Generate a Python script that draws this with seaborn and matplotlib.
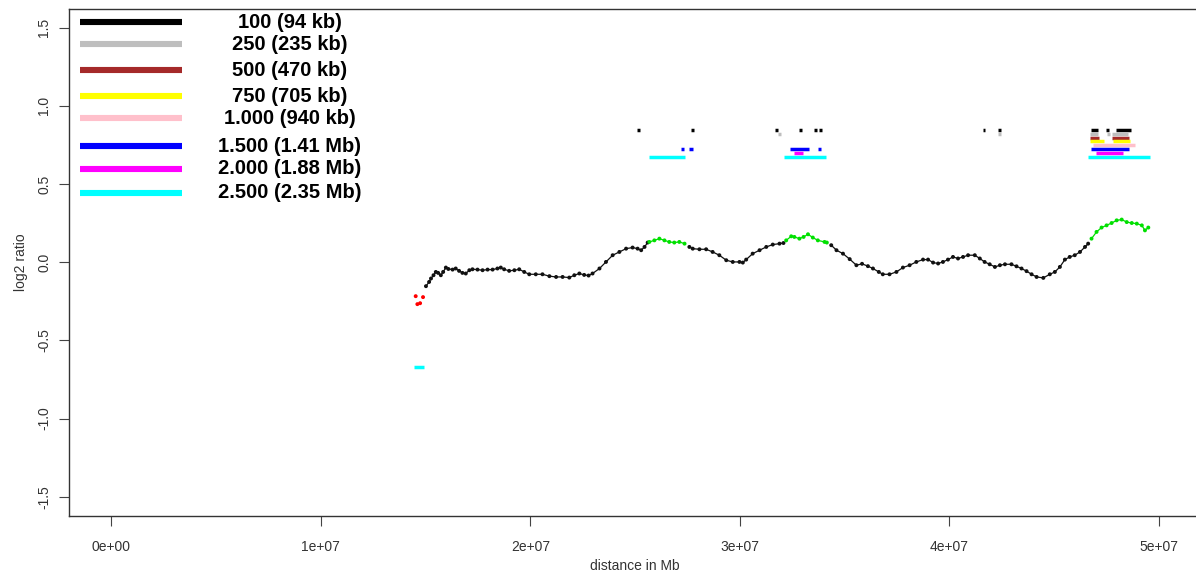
import numpy as np
import pandas as pd
import matplotlib
matplotlib.use("Agg")
import matplotlib.pyplot as plt
import seaborn as sns
from matplotlib.lines import Line2D

sns.set_theme(style="white")
plt.rcParams["font.family"] = ["Liberation Sans", "DejaVu Sans"]

# ---------------- data ----------------
# smoothed log2 ratio points (position in Mb, value) and their call
red_pos = [14.53, 14.61, 14.74, 14.88]
red_val = [-0.217, -0.268, -0.262, -0.223]

black1_pos = [15.02, 15.17, 15.26, 15.38, 15.49, 15.60, 15.73, 15.84, 15.97, 16.09,
              16.29, 16.44, 16.60, 16.76, 16.92, 17.09, 17.24, 17.48, 17.72, 17.96,
              18.20, 18.43, 18.59, 18.75, 18.99, 19.24, 19.47, 19.71, 19.95, 20.26,
              20.58, 20.91, 21.23, 21.54, 21.86, 22.10, 22.34, 22.57, 22.78, 22.97,
              23.30, 23.61, 23.93, 24.25, 24.57, 24.88, 25.12, 25.29, 25.45, 25.60]
black1_val = [-0.153, -0.126, -0.104, -0.083, -0.062, -0.068, -0.083, -0.062, -0.034, -0.043,
              -0.047, -0.040, -0.055, -0.068, -0.072, -0.051, -0.045, -0.047, -0.051, -0.047,
              -0.047, -0.040, -0.034, -0.045, -0.055, -0.051, -0.045, -0.062, -0.077, -0.077,
              -0.077, -0.089, -0.094, -0.094, -0.098, -0.083, -0.072, -0.081, -0.085, -0.072,
              -0.040, 0.002, 0.045, 0.066, 0.087, 0.094, 0.087, 0.077, 0.098, 0.126]

green1_pos = [25.68, 25.92, 26.16, 26.40, 26.63, 26.87, 27.11, 27.36]
green1_val = [0.130, 0.140, 0.151, 0.140, 0.130, 0.126, 0.130, 0.119]

black2_pos = [27.59, 27.75, 28.07, 28.39, 28.70, 29.02, 29.35, 29.66, 29.98, 30.14,
              30.30, 30.61, 30.94, 31.26, 31.57, 31.89, 32.08]
black2_val = [0.098, 0.087, 0.083, 0.083, 0.066, 0.045, 0.013, 0.002, 0.002, -0.002,
              0.017, 0.055, 0.077, 0.098, 0.113, 0.119, 0.123]

green2_pos = [32.21, 32.45, 32.60, 32.84, 33.04, 33.25, 33.48, 33.72, 34.04, 34.15]
green2_val = [0.140, 0.166, 0.162, 0.151, 0.162, 0.179, 0.158, 0.140, 0.130, 0.126]

black3_pos = [34.36, 34.61, 34.92, 35.24, 35.56, 35.83, 36.11, 36.35, 36.63, 36.82,
              37.14, 37.47, 37.78, 38.10, 38.42, 38.74, 38.98, 39.22, 39.46, 39.69,
              39.93, 40.17, 40.41, 40.65, 40.89, 41.21, 41.45, 41.68, 41.92, 42.17,
              42.41, 42.65, 42.96, 43.20, 43.44, 43.68, 43.92, 44.16, 44.48, 44.79,
              45.03, 45.27, 45.51, 45.74, 45.98, 46.23, 46.47, 46.62]
black3_val = [0.109, 0.077, 0.055, 0.020, -0.019, -0.010, -0.025, -0.040, -0.062, -0.077,
              -0.077, -0.062, -0.034, -0.019, 0.002, 0.017, 0.017, -0.002, -0.008, 0.002,
              0.017, 0.034, 0.024, 0.034, 0.045, 0.045, 0.024, 0.002, -0.013, -0.030,
              -0.019, -0.013, -0.013, -0.026, -0.040, -0.057, -0.077, -0.094, -0.100, -0.077,
              -0.062, -0.030, 0.017, 0.034, 0.045, 0.066, 0.098, 0.119]

green3_pos = [46.78, 47.02, 47.26, 47.50, 47.74, 47.98, 48.22, 48.46, 48.70, 48.94,
              49.18, 49.33, 49.49]
green3_val = [0.151, 0.194, 0.222, 0.236, 0.251, 0.268, 0.273, 0.257, 0.251, 0.247,
              0.236, 0.204, 0.222]

# segment calls per window size: (series, start Mb, end Mb, level)
seg_series = ["100"] * 11 + ["250"] * 5 + ["500"] * 2 + ["750"] * 2 + ["1.000"] * 1 \
    + ["1.500"] * 5 + ["2.000"] * 2 + ["2.500"] * 4
seg_start = [25.09, 27.68, 31.69, 32.82, 33.54, 33.78, 41.58, 42.30, 46.77, 47.48, 47.93,
             31.82, 42.33, 46.71, 47.50, 47.78,
             46.71, 47.77,
             46.71, 47.81,
             46.86,
             27.21, 27.55, 32.41, 33.73, 46.75,
             32.60, 46.98,
             14.45, 25.68, 32.09, 46.62]
seg_end = [25.23, 27.82, 31.83, 32.96, 33.68, 33.92, 41.72, 42.44, 47.10, 47.62, 48.66,
           31.96, 42.47, 47.10, 47.64, 48.54,
           47.15, 48.58,
           47.38, 48.62,
           48.86,
           27.35, 27.75, 33.28, 33.87, 48.58,
           32.99, 48.27,
           14.93, 27.36, 34.12, 49.57]
seg_value = [0.848] * 11 + [0.822] * 5 + [0.796] * 2 + [0.773] * 2 + [0.749] \
    + [0.725] * 5 + [0.699] * 2 + [-0.672, 0.675, 0.675, 0.675]

legend_labels = ["100 (94 kb)", "250 (235 kb)", "500 (470 kb)", "750 (705 kb)",
                 "1.000 (940 kb)", "1.500 (1.41 Mb)", "2.000 (1.88 Mb)", "2.500 (2.35 Mb)"]
legend_keys = ["100", "250", "500", "750", "1.000", "1.500", "2.000", "2.500"]
series_colors = ["#000000", "#BEBEBE", "#A52A2A", "#FFFF00", "#FFC0CB",
                 "#0000FF", "#FF00FF", "#00FFFF"]

x_ticks = [0, 1e7, 2e7, 3e7, 4e7, 5e7]
x_tick_labels = ["0e+00", "1e+07", "2e+07", "3e+07", "4e+07", "5e+07"]
y_ticks = [-1.5, -1.0, -0.5, 0.0, 0.5, 1.0, 1.5]
y_tick_labels = ["-1.5", "-1.0", "-0.5", "0.0", "0.5", "1.0", "1.5"]

# ---------------- build frames ----------------
groups = [(red_pos, red_val, "loss"), (black1_pos, black1_val, "none"),
          (green1_pos, green1_val, "gain"), (black2_pos, black2_val, "none"),
          (green2_pos, green2_val, "gain"), (black3_pos, black3_val, "none"),
          (green3_pos, green3_val, "gain")]
rows = []
for gi, (p, v, c) in enumerate(groups):
    for a, b in zip(p, v):
        rows.append((a * 1e6, b, c, gi))
pts = pd.DataFrame(rows, columns=["pos", "log2", "call", "grp"])
call_colors = {"none": "#111111", "gain": "#00E000", "loss": "#FF0000"}

segs = pd.DataFrame({"series": seg_series,
                     "start": np.array(seg_start) * 1e6,
                     "end": np.array(seg_end) * 1e6,
                     "value": seg_value})
color_map = dict(zip(legend_keys, series_colors))

# ---------------- figure ----------------
W, H = 1196, 575
fig = plt.figure(figsize=(W / 100, H / 100), dpi=100)
ax_left, ax_right, ax_top, ax_bottom = 69.3, 1200.9, 9.0, 515.5
ax = fig.add_axes([ax_left / W, 1 - ax_bottom / H, (ax_right - ax_left) / W,
                   (ax_bottom - ax_top) / H])

# faint connection between consecutive smoothed points (dense dotted look)
for gi, sub in pts.groupby("grp"):
    if sub["call"].iloc[0] == "loss":
        continue
    ax.plot(sub["pos"], sub["log2"], color=call_colors[sub["call"].iloc[0]],
            lw=0.9, zorder=2.5)
sns.scatterplot(data=pts, x="pos", y="log2", hue="call", palette=call_colors,
                s=8, edgecolor="none", legend=False, ax=ax, zorder=3)

for key in legend_keys:
    sub = segs[segs["series"] == key]
    ax.hlines(sub["value"], sub["start"], sub["end"], color=color_map[key], lw=2.5, zorder=2)

ax.set_xlim(-2.0e6, 5.2e7)
ax.set_ylim(-1.62, 1.62)
ax.set_xticks(x_ticks)
ax.set_xticklabels(x_tick_labels)
ax.set_yticks(y_ticks)
ax.set_yticklabels(y_tick_labels, rotation=90, va="center")
ax.tick_params(axis="both", direction="out", length=7, width=0.8, color="#444444",
               labelsize=10, labelcolor="#333333", bottom=True, left=True)
ax.tick_params(axis="x", pad=10.5)
ax.tick_params(axis="y", pad=6)
for s in ax.spines.values():
    s.set_color("#333333")
    s.set_linewidth(1.0)
ax.grid(False)
ax.set_xlabel("distance in Mb", fontsize=10, color="#333333", labelpad=4)
ax.set_ylabel("log2 ratio", fontsize=10, color="#333333", labelpad=7)

# legend (R style: thick line keys with centred bold labels)
row_px = [22, 44.3, 70, 96, 118.3, 146, 168.7, 192.7]
for ypx, col, lab in zip(row_px, series_colors, legend_labels):
    fig.add_artist(Line2D([80 / W, 182 / W], [1 - ypx / H, 1 - ypx / H],
                          transform=fig.transFigure, color=col, lw=4.4,
                          solid_capstyle="butt"))
    fig.text(290 / W, 1 - ypx / H, lab, ha="center", va="center",
             fontsize=14.5, fontweight="bold", color="black",
             family=["Liberation Sans", "DejaVu Sans"])

fig.savefig("out.png", dpi=100)
